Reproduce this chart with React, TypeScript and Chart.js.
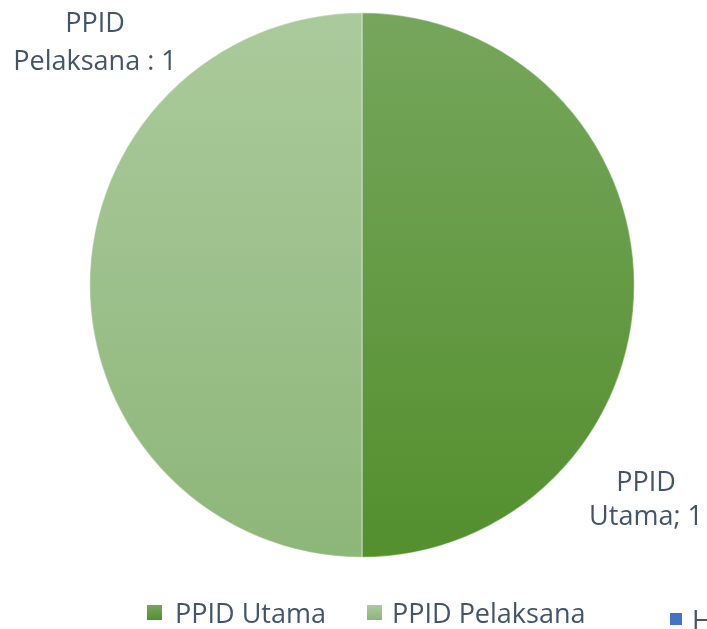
import { useEffect, useRef } from "react";
import { Chart, registerables } from "chart.js";

Chart.register(...registerables);

const categories = ["PPID Utama", "PPID Pelaksana"];
const values = [1, 1];
const labelSeparators = ["; ", " : "];
const extraLegendLabel = "H";

const topColors = ["#76a65c", "#abca9c"];
const bottomColors = ["#538f2d", "#8db679"];
const legendColors = ["#5e9638", "#a4c793"];
const extraLegendColor = "#4472c4";
const textColor = "#44546a";
const FONT = "27px 'Open Sans'";

const labelsPlugin = {
  id: "customLabels",
  afterDraw(chart: any) {
    const ctx = chart.ctx;
    const ca = chart.chartArea;
    ctx.save();
    ctx.font = FONT;
    ctx.fillStyle = textColor;
    ctx.textAlign = "center";
    ctx.textBaseline = "alphabetic";
    const spots = [
      { x: ca.right + 11, y1: ca.bottom - 67, y2: ca.bottom - 33 },
      { x: ca.left + 6, y1: ca.top + 20, y2: ca.top + 58 },
    ];
    categories.forEach((c, i) => {
      const words = c.split(" ");
      const l1 = words[0];
      const l2 = words.slice(1).join(" ") + labelSeparators[i] + values[i];
      const s = spots[i];
      ctx.fillText(l1, s.x, s.y1);
      ctx.fillText(l2, s.x, s.y2);
    });
    ctx.textAlign = "left";
    const legendItems = [
      { x: 147, sq: 15, y: 605, tx: 175, ty: 623 },
      { x: 367, sq: 15, y: 605, tx: 392, ty: 623 },
    ];
    categories.forEach((c, i) => {
      const it = legendItems[i];
      const g = ctx.createLinearGradient(0, it.y, 0, it.y + it.sq);
      g.addColorStop(0, topColors[i]);
      g.addColorStop(1, bottomColors[i]);
      ctx.fillStyle = g;
      ctx.fillRect(it.x, it.y, it.sq, it.sq);
      ctx.fillStyle = textColor;
      ctx.fillText(c, it.tx, it.ty);
    });
    ctx.fillStyle = extraLegendColor;
    ctx.fillRect(670, 613, 12, 12);
    ctx.fillStyle = textColor;
    ctx.fillText(extraLegendLabel, 692, 630);
    ctx.restore();
  },
};

export default function App() {
  const ref = useRef<HTMLCanvasElement>(null);
  useEffect(() => {
    document.body.style.margin = "0";
    const canvas = ref.current!;
    const chart = new Chart(canvas, {
      type: "pie",
      data: {
        labels: categories,
        datasets: [
          {
            data: values,
            backgroundColor: (c: any) => {
              const ch = c.chart;
              const ca = ch.chartArea;
              const i = c.dataIndex;
              if (!ca) return legendColors[i];
              const g = ch.ctx.createLinearGradient(0, ca.top, 0, ca.bottom);
              g.addColorStop(0, topColors[i]);
              g.addColorStop(1, bottomColors[i]);
              return g;
            },
            borderColor: "rgba(255,255,255,0.35)",
            borderWidth: 1.5,
          },
        ],
      },
      options: {
        responsive: false,
        animation: false,
        layout: { padding: { left: 89, right: 72, top: 12, bottom: 71 } },
        plugins: {
          legend: { display: false },
          tooltip: { enabled: false },
        },
      },
      plugins: [labelsPlugin],
    });
    return () => chart.destroy();
  }, []);
  return (
    <div style={{ position: "fixed", left: 0, top: 0, width: 707, height: 629, background: "#fff" }}>
      <canvas ref={ref} width={707} height={629} />
    </div>
  );
}
